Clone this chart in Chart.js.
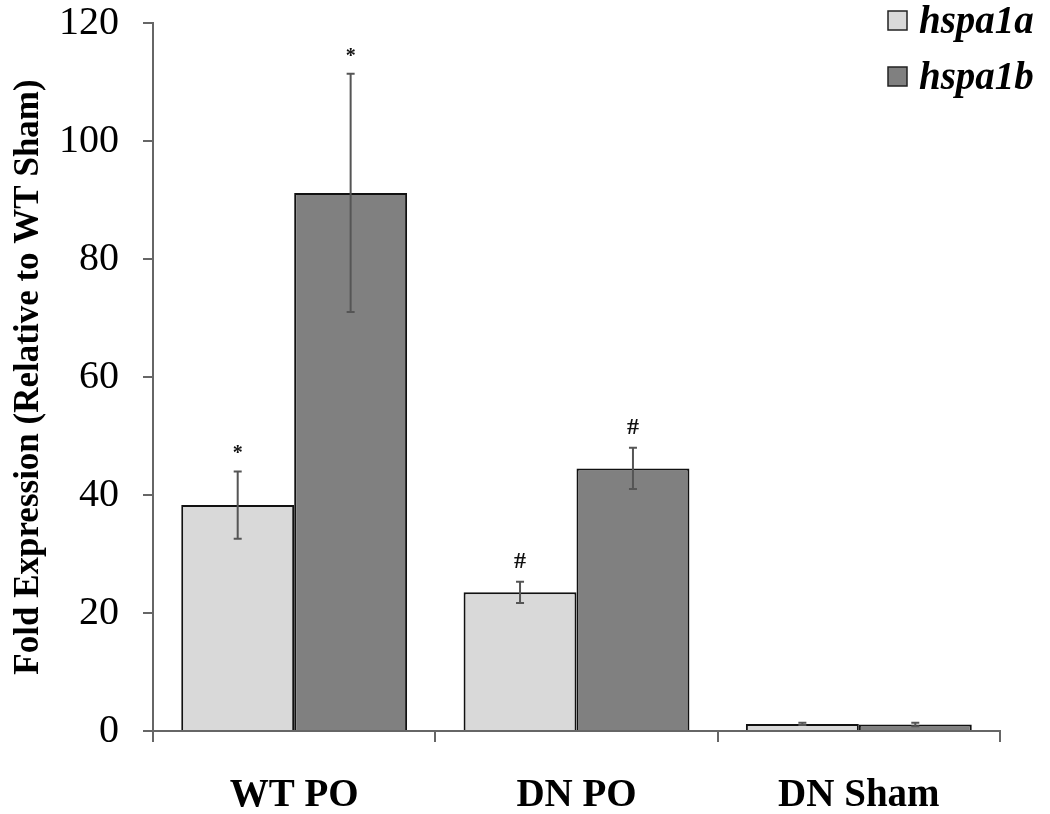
<!DOCTYPE html>
<html>
<head>
<meta charset="utf-8">
<title>hspa1a / hspa1b fold expression</title>
<script src="https://cdn.jsdelivr.net/npm/chart.js@4.4.1/dist/chart.umd.min.js"></script>
<style>
  html, body { margin: 0; padding: 0; background: #fff; }
  #wrap { width: 1050px; height: 814px; position: relative; }
</style>
</head>
<body>
<div id="wrap"><canvas id="chart"></canvas></div>
<script>
// ---- data ----
const categories = ["WT PO", "DN PO", "DN Sham"];
const seriesNames = ["hspa1a", "hspa1b"];
const hspa1a = [38.3, 23.5, 1.2];
const hspa1b = [91.2, 44.5, 1.1];
const hspa1aErr = [5.7, 1.8, 0.2];
const hspa1bErr = [20.2, 3.5, 0.3];
const hspa1aMarks = ["*", "#", ""];
const hspa1bMarks = ["*", "#", ""];
const yTicks = [0, 20, 40, 60, 80, 100, 120];

const FONT = '"Liberation Serif", "Times New Roman", serif';
const colors = ["#d9d9d9", "#808080"];

// ================= PLUGINS =================
const errorBars = {
  id: "errorBars",
  afterDatasetsDraw(chart) {
    const { ctx } = chart;
    const yScale = chart.scales.y;
    chart.data.datasets.forEach((ds, i) => {
      const meta = chart.getDatasetMeta(i);
      meta.data.forEach((bar, j) => {
        const v = ds.data[j];
        const e = ds.errors[j];
        const top = yScale.getPixelForValue(v + e);
        const bot = yScale.getPixelForValue(v - e);
        ctx.save();
        ctx.strokeStyle = "#555";
        ctx.lineWidth = 2;
        ctx.beginPath();
        ctx.moveTo(bar.x, top);
        ctx.lineTo(bar.x, bot);
        ctx.moveTo(bar.x - 4, top);
        ctx.lineTo(bar.x + 4, top);
        ctx.moveTo(bar.x - 4, bot);
        ctx.lineTo(bar.x + 4, bot);
        ctx.stroke();

        const mark = ds.marks[j];
        if (mark) {
          ctx.fillStyle = "#111";
          ctx.textAlign = "center";
          ctx.textBaseline = "alphabetic";
          ctx.font = (mark === "#" ? "bold 24px " : "bold 20px ") + FONT;
          ctx.fillText(mark, bar.x, top - (mark === "#" ? 14 : 12));
        }
        ctx.restore();
      });
    });
  }
};

const cornerLegend = {
  id: "cornerLegend",
  afterDraw(chart) {
    const { ctx } = chart;
    chart.data.datasets.forEach((ds, i) => {
      const cy = 21 + i * 56;
      ctx.save();
      ctx.fillStyle = ds.backgroundColor;
      ctx.strokeStyle = "#222";
      ctx.lineWidth = 1.5;
      ctx.fillRect(888, cy - 10, 19, 19);
      ctx.strokeRect(888, cy - 10, 19, 19);
      ctx.fillStyle = "#000";
      ctx.font = "italic bold 39px " + FONT;
      ctx.textAlign = "left";
      ctx.textBaseline = "middle";
      ctx.fillText(ds.label, 919, cy + 2);
      ctx.restore();
    });
  }
};

// ================= CHART =================
new Chart(document.getElementById("chart"), {
  type: "bar",
  data: {
    labels: categories,
    datasets: [
      { label: seriesNames[0], data: hspa1a, errors: hspa1aErr, marks: hspa1aMarks,
        backgroundColor: colors[0], borderColor: "#111", borderWidth: 2 },
      { label: seriesNames[1], data: hspa1b, errors: hspa1bErr, marks: hspa1bMarks,
        backgroundColor: colors[1], borderColor: "#111", borderWidth: 2 }
    ]
  },
  options: {
    responsive: true,
    maintainAspectRatio: false,
    animation: false,
    layout: { padding: { top: 0, right: 50, bottom: 0, left: 0 } },
    datasets: { bar: { categoryPercentage: 0.8, barPercentage: 1.0 } },
    plugins: { legend: { display: false }, tooltip: { enabled: false } },
    scales: {
      x: {
        grid: { drawOnChartArea: false, offset: true, tickLength: 11, color: "#666", lineWidth: 2 },
        border: { color: "#666", width: 2 },
        ticks: { color: "#000", font: { family: FONT, size: 39, weight: "bold" }, padding: 31 },
        afterFit(scale) { scale.height = 83; }
      },
      y: {
        min: 0,
        max: 120,
        afterBuildTicks(scale) { scale.ticks = yTicks.map(v => ({ value: v })); },
        grid: { drawOnChartArea: false, tickLength: 10, color: "#666", lineWidth: 2 },
        border: { color: "#666", width: 2 },
        ticks: { color: "#000", font: { family: FONT, size: 40 }, padding: 24 },
        title: {
          display: true,
          text: "Fold Expression (Relative to WT Sham)",
          color: "#000",
          font: { family: FONT, size: 35, weight: "bold" },
          padding: { top: 8, bottom: 0 }
        },
        afterFit(scale) {
          scale.width = 153;
          scale.paddingTop = 23;
          scale.paddingBottom = 0;
        }
      }
    }
  },
  plugins: [errorBars, cornerLegend]
});
</script>
</body>
</html>
